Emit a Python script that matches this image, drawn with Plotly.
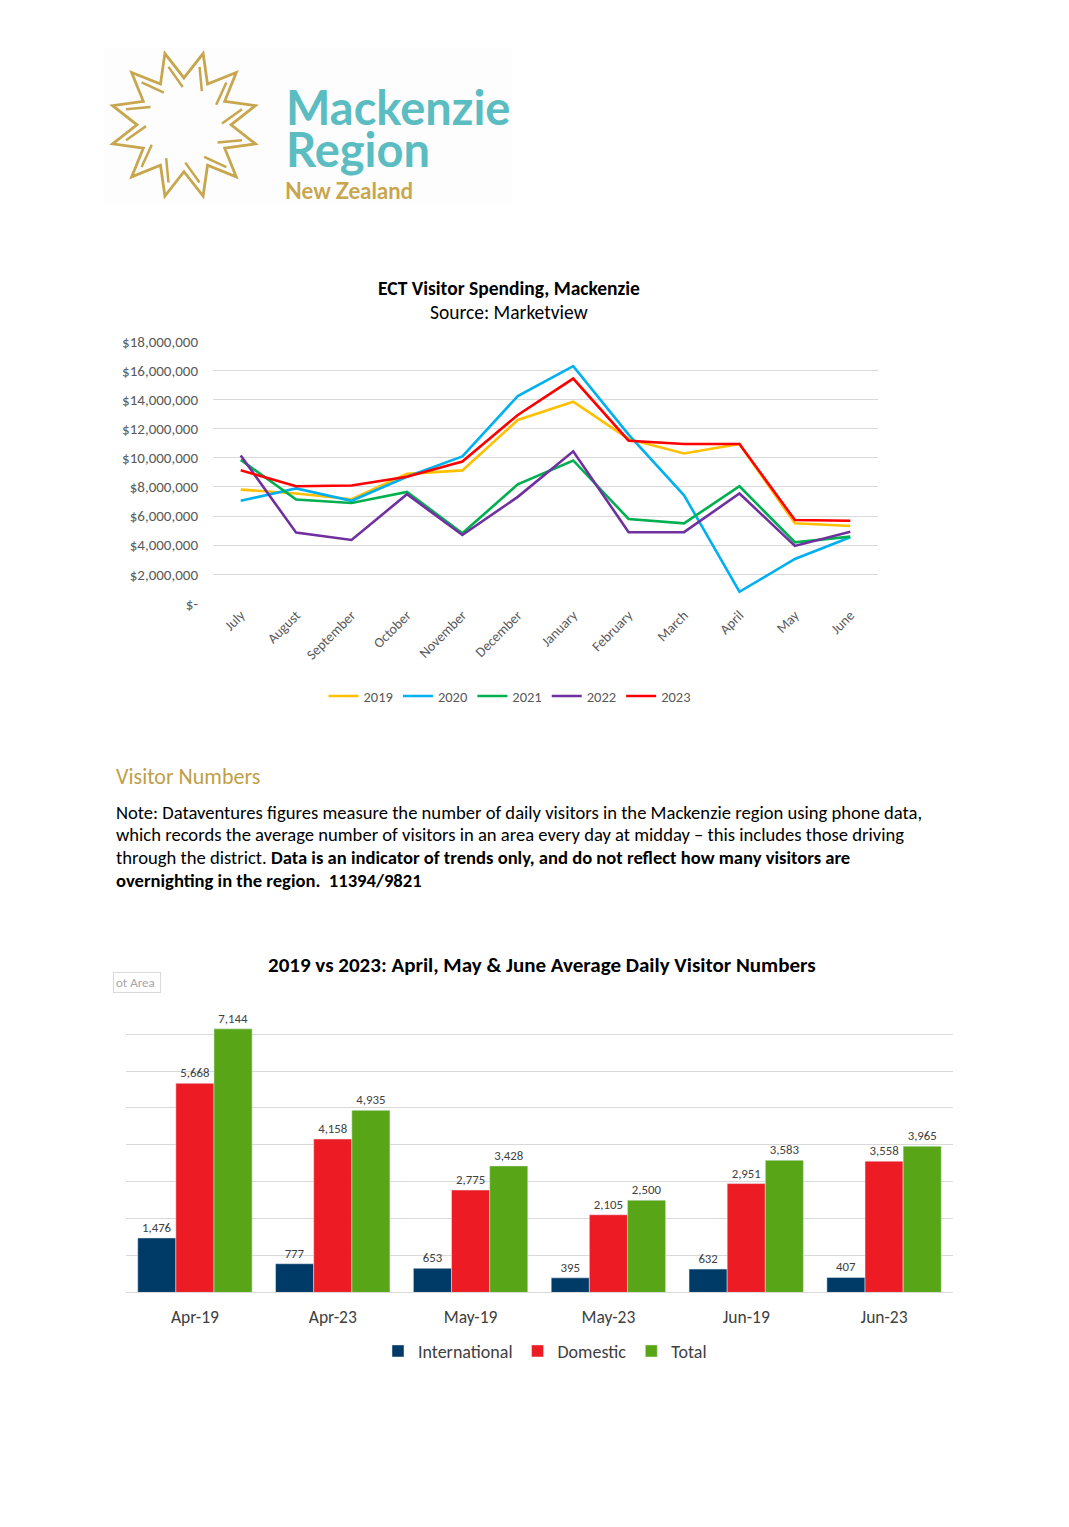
import math
import plotly.graph_objects as go

W, H = 1069, 1527
OFF = 8  # default page margin around the plot div
FW, FH = W - 2 * OFF, H - 2 * OFF - 10  # keep the page inside the window
FONT = "Carlito, Calibri, Lato, sans-serif"

# ---- data: ECT visitor spending (NZD), July..June ----
months = ["July", "August", "September", "October", "November", "December",
          "January", "February", "March", "April", "May", "June"]
spend_2019 = [7.82e6, 7.55e6, 7.16e6, 8.90e6, 9.14e6, 12.6e6, 13.86e6, 11.3e6, 10.3e6, 10.95e6, 5.50e6, 5.32e6]
spend_2020 = [7.05e6, 7.90e6, 7.05e6, 8.70e6, 10.1e6, 14.25e6, 16.3e6, 11.6e6, 7.43e6, 0.80e6, 3.05e6, 4.55e6]
spend_2021 = [9.86e6, 7.14e6, 6.90e6, 7.66e6, 4.82e6, 8.18e6, 9.82e6, 5.80e6, 5.50e6, 8.05e6, 4.20e6, 4.59e6]
spend_2022 = [10.16e6, 4.86e6, 4.36e6, 7.50e6, 4.70e6, 7.32e6, 10.45e6, 4.89e6, 4.90e6, 7.55e6, 3.95e6, 4.93e6]
spend_2023 = [9.14e6, 8.05e6, 8.10e6, 8.70e6, 9.75e6, 12.95e6, 15.45e6, 11.18e6, 10.95e6, 10.95e6, 5.73e6, 5.68e6]
spend_ticks = [0, 2e6, 4e6, 6e6, 8e6, 10e6, 12e6, 14e6, 16e6, 18e6]

# ---- data: average daily visitor numbers ----
periods = ["Apr-19", "Apr-23", "May-19", "May-23", "Jun-19", "Jun-23"]
international = [1476, 777, 653, 395, 632, 407]
domestic = [5668, 4158, 2775, 2105, 2951, 3558]
total = [7144, 4935, 3428, 2500, 3583, 3965]


def px(x):
    return (x - OFF) / FW


def py(y):
    # small vertical correction measured from earlier renders
    y = (y - 4) / 0.9915
    return 1 - (y - OFF) / FH


fig = go.Figure()

# line chart
line_series = [("2019", spend_2019, "#ffc000"), ("2020", spend_2020, "#00b0f0"),
               ("2021", spend_2021, "#00b050"), ("2022", spend_2022, "#7030a0"),
               ("2023", spend_2023, "#ff0000")]
for name, vals, col in line_series:
    fig.add_trace(go.Scatter(x=months, y=vals, name=name, mode="lines",
                             line=dict(color=col, width=2.6),
                             xaxis="x", yaxis="y", legend="legend"))

# bar chart
bar_series = [("International", international, "#003a66"),
              ("Domestic", domestic, "#ed1c24"),
              ("Total", total, "#58a618")]
for name, vals, col in bar_series:
    fig.add_trace(go.Bar(x=periods, y=vals, name=name, marker_color=col,
                         texttemplate="%{y:,}", textposition="outside",
                         textfont=dict(size=12.8, color="#404040", family=FONT),
                         cliponaxis=False, xaxis="x2", yaxis="y2", legend="legend2"))

tick_text = ["$-" if v == 0 else "${:,.0f}".format(v) for v in spend_ticks]

fig.update_layout(
    width=FW, height=FH,
    margin=dict(l=0, r=0, t=0, b=0),
    paper_bgcolor="white", plot_bgcolor="white",
    font=dict(family=FONT, color="#595959"),
    barmode="group", bargap=0.17, bargroupgap=0,
    xaxis=dict(domain=[px(213), px(878)], anchor="y", range=[-0.5, 11.5],
               tickangle=-45, tickfont=dict(size=14, color="#595959"),
               showgrid=False, showline=False, ticks=""),
    yaxis=dict(domain=[py(601), py(338)], anchor="x", range=[0, 18.02e6],
               tickvals=spend_ticks, ticktext=tick_text, ticklabelstandoff=14,
               tickfont=dict(size=15, color="#595959"),
               gridcolor="#d9d9d9", gridwidth=1, zeroline=False, showline=False),
    xaxis2=dict(domain=[px(126), px(953)], anchor="y2", ticklabelstandoff=9,
                tickfont=dict(size=17.5, color="#404040"),
                showgrid=False, showline=True, linecolor="#d9d9d9", ticks=""),
    yaxis2=dict(domain=[py(1292), py(996)], anchor="x2", range=[0, 8000],
                tickvals=list(range(0, 8001, 1000)), showticklabels=False,
                gridcolor="#d9d9d9", gridwidth=1, zeroline=False),
    legend=dict(orientation="h", x=px(510), xanchor="center", y=py(694), yanchor="middle",
                font=dict(size=14.5, color="#595959"), itemwidth=30, bgcolor="rgba(0,0,0,0)"),
    legend2=dict(orientation="h", x=px(545), xanchor="center", y=py(1351), yanchor="middle",
                 font=dict(size=18, color="#404040"), bgcolor="rgba(0,0,0,0)"),
)

# ---- logo ----
gold = "#c8a64e"
cx, cy, R, r = 184, 121, 74, 47
pts = []
for k in range(12):
    a_out = math.radians(15 + 30 * k)
    a_in = math.radians(30 + 30 * k)
    pts.append((cx + R * math.cos(a_out), cy - R * math.sin(a_out)))
    pts.append((cx + r * math.cos(a_in), cy - r * math.sin(a_in)))
star = "M " + " L ".join("{:.4f},{:.4f}".format(px(x), py(y)) for x, y in pts) + " Z"
fig.add_shape(type="rect", xref="paper", yref="paper", x0=px(104), x1=px(512), y0=py(200), y1=py(44),
              fillcolor="#fdfdfd", line=dict(width=0), layer="below")
fig.add_shape(type="path", path=star, xref="paper", yref="paper", line=dict(color=gold, width=2.8))
inner = ""
for k in range(12):
    a0 = math.radians(15 + 30 * k - 13)
    a1 = math.radians(15 + 30 * k)
    x0, y0 = cx + 38 * math.cos(a0), cy - 38 * math.sin(a0)
    x1, y1 = cx + 60 * math.cos(a1), cy - 60 * math.sin(a1)
    inner += "M {:.4f},{:.4f} L {:.4f},{:.4f} ".format(px(x0), py(y0), px(x1), py(y1))
fig.add_shape(type="path", path=inner, xref="paper", yref="paper", line=dict(color=gold, width=2.5))


def note(x, y, text, size, color="#000000", anchor="left", family=FONT):
    fig.add_annotation(x=px(x), y=py(y), xref="paper", yref="paper", text=text,
                       showarrow=False, xanchor=anchor, yanchor="middle",
                       font=dict(size=size, color=color, family=family))


note(284, 103, "<b>Mackenzie</b>", 47, "#5bbcc1", family="Lato, sans-serif")
note(284, 145, "<b>Region</b>", 47, "#5bbcc1", family="Lato, sans-serif")
note(283, 187, "<b>New Zealand</b>", 22, gold, family="Lato, sans-serif")

# line chart titles
note(509, 285, "<b>ECT Visitor Spending, Mackenzie</b>", 19.5, "#000000", "center")
note(509, 309, "Source: Marketview", 19.5, "#000000", "center")

# text section
note(114, 775, "Visitor Numbers", 22, "#bf9f47")
note(114, 811, "Note: Dataventures figures measure the number of daily visitors in the Mackenzie region using phone data,", 18.6)
note(114, 833, "which records the average number of visitors in an area every day at midday \u2013 this includes those driving", 18.6)
note(114, 856, "through the district. <b>Data is an indicator of trends only, and do not reflect how many visitors are</b>", 18.6)
note(114, 879, "<b>overnighting in the region.  11394/9821</b>", 18.6)

# bar chart title and stray "Plot Area" tip
note(542, 964, "<b>2019 vs 2023: April, May & June Average Daily Visitor Numbers</b>", 21, "#000000", "center")
fig.add_annotation(x=px(113), y=py(981), xref="paper", yref="paper", text="ot Area&nbsp;",
                   showarrow=False, xanchor="left", yanchor="middle",
                   font=dict(size=13, color="#a6a6a6", family=FONT),
                   bordercolor="#d9d9d9", borderwidth=1, borderpad=2, bgcolor="white")

fig.write_html("out.html")
